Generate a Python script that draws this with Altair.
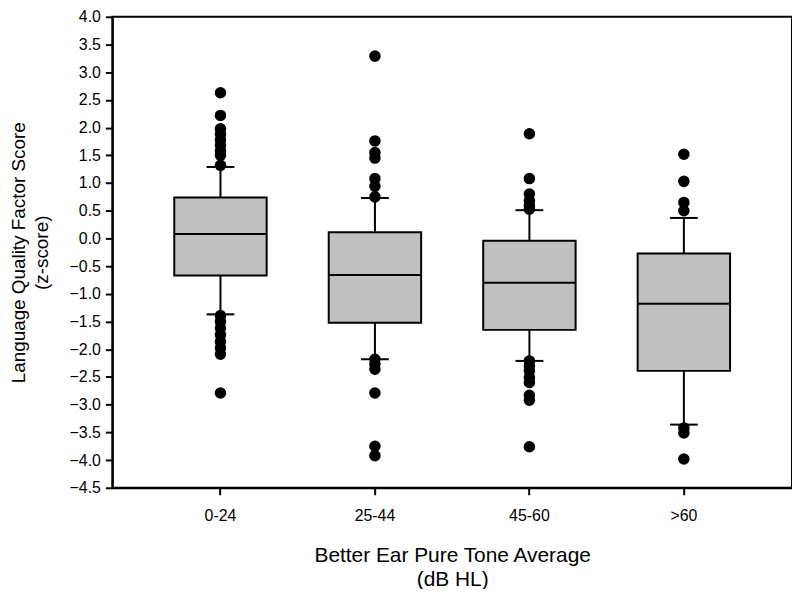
import altair as alt
import pandas as pd

cats = ["0-24", "25-44", "45-60", ">60"]
q1 = [-0.67, -1.52, -1.65, -2.39]
med = [0.08, -0.66, -0.80, -1.18]
q3 = [0.74, 0.11, -0.04, -0.27]
lo = [-1.37, -2.18, -2.21, -3.36]
hi = [1.29, 0.73, 0.51, 0.37]

out_0_24 = [2.63, 2.22, 1.98, 1.88, 1.78, 1.68, 1.58, 1.50, 1.32,
            -1.39, -1.50, -1.62, -1.74, -1.86, -1.98, -2.09, -2.79]
out_25_44 = [3.29, 1.76, 1.55, 1.45, 1.08, 0.94, 0.75,
             -2.18, -2.27, -2.36, -2.79, -3.75, -3.92]
out_45_60 = [1.89, 1.08, 0.80, 0.68, 0.59, 0.53,
             -2.21, -2.30, -2.39, -2.51, -2.60, -2.83, -2.92, -3.76]
out_60 = [1.52, 1.03, 0.65, 0.50, -3.42, -3.51, -3.98]

y_ticks = [-4.5, -4.0, -3.5, -3.0, -2.5, -2.0, -1.5, -1.0, -0.5, 0.0,
           0.5, 1.0, 1.5, 2.0, 2.5, 3.0, 3.5, 4.0]

summary = pd.DataFrame({"cat": cats, "q1": q1, "med": med, "q3": q3, "lo": lo, "hi": hi})
outs = pd.DataFrame(
    [(c, v) for c, vals in zip(cats, [out_0_24, out_25_44, out_45_60, out_60]) for v in vals],
    columns=["cat", "value"],
)

FONT = "Liberation Sans"

x_axis = alt.Axis(title=["Better Ear Pure Tone Average", "(dB HL)"], labelAngle=0)
y_axis = alt.Axis(
    title=["Language Quality Factor Score", "(z-score)"],
    values=y_ticks,
    format=".1f",
    grid=False,
)

x_scale = alt.Scale(domain=cats, paddingInner=0, paddingOuter=0.2)
y_scale = alt.Scale(domain=[-4.5, 4.0], nice=False, zero=False)


def X():
    return alt.X("cat:N", sort=cats, scale=x_scale, axis=x_axis)


def Y(field):
    return alt.Y(field, scale=y_scale, axis=y_axis)


base = alt.Chart(summary)

whisker = base.mark_rule(color="black", strokeWidth=2).encode(
    x=X(), y=Y("lo:Q"), y2="hi:Q"
)
box = base.mark_bar(size=93, color="#c0c0c0", stroke="black", strokeWidth=2, opacity=1).encode(
    x=X(), y=Y("q1:Q"), y2="q3:Q"
)
median = base.mark_tick(size=93, thickness=2, color="black", opacity=1).encode(
    x=X(), y=Y("med:Q")
)
cap_hi = base.mark_tick(size=28, thickness=2, color="black", opacity=1).encode(
    x=X(), y=Y("hi:Q")
)
cap_lo = base.mark_tick(size=28, thickness=2, color="black", opacity=1).encode(
    x=X(), y=Y("lo:Q")
)
points = alt.Chart(outs).mark_circle(size=135, color="black", opacity=1).encode(
    x=X(), y=Y("value:Q")
)

chart = (
    alt.layer(whisker, box, median, cap_hi, cap_lo, points)
    .properties(
        width=684,
        height=474,
        autosize=alt.AutoSizeParams(type="none"),
        padding={"left": 105, "top": 7, "right": 0, "bottom": 100},
    )
    .configure_view(stroke="black", strokeWidth=2)
    .configure_axis(
        domainColor="black",
        domainWidth=2,
        tickColor="black",
        tickWidth=2,
        tickSize=7,
        labelColor="black",
        titleColor="black",
        labelFont=FONT,
        titleFont=FONT,
        labelFontSize=16,
        titleFontWeight="normal",
        labelOverlap=False,
        labelBound=False,
    )
    .configure_axisX(labelPadding=13, titlePadding=21, titleFontSize=21, titleLineHeight=24)
    .configure_axisY(labelPadding=5, titlePadding=18, titleFontSize=19, titleLineHeight=23)
)

chart.save("out.html", embed_options={"renderer": "svg", "actions": False})
